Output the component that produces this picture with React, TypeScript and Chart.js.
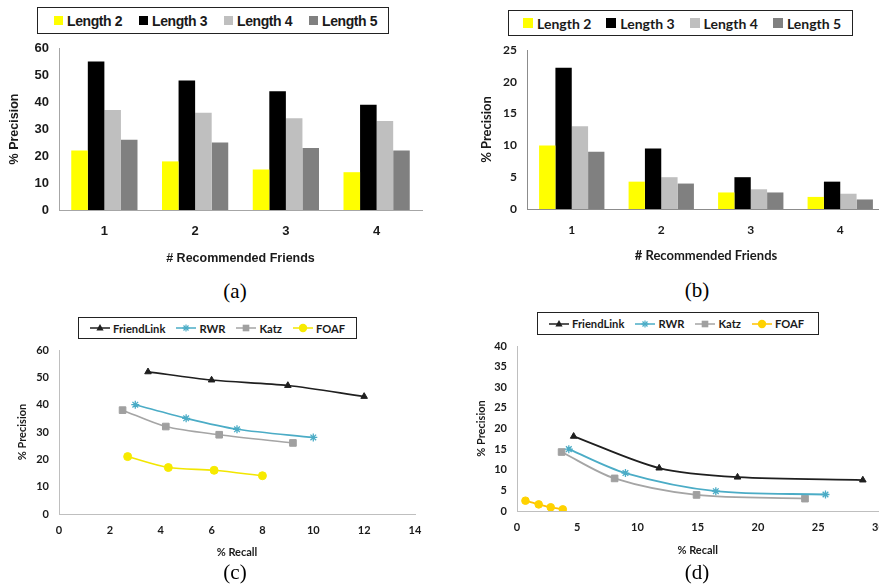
import React, { useEffect, useRef } from "react";
import { Chart, registerables } from "chart.js";

Chart.register(...registerables);

// ---------- Data ----------
const barCategories = ["1", "2", "3", "4"];
const barSeriesNames = ["Length 2", "Length 3", "Length 4", "Length 5"];
const barColors = ["#FFFF00", "#000000", "#BFBFBF", "#808080"];

// Panel (a)
const precisionA_len2 = [22, 18, 15, 14];
const precisionA_len3 = [55, 48, 44, 39];
const precisionA_len4 = [37, 36, 34, 33];
const precisionA_len5 = [26, 25, 23, 22];

// Panel (b)
const precisionB_len2 = [10, 4.3, 2.6, 1.9];
const precisionB_len3 = [22.2, 9.5, 5, 4.3];
const precisionB_len4 = [13, 5, 3.1, 2.4];
const precisionB_len5 = [9, 4, 2.6, 1.5];

const lineSeriesNames = ["FriendLink", "RWR", "Katz", "FOAF"];

// Panel (c)
const recallC_friendlink = [3.5, 6, 9, 12];
const precisionC_friendlink = [52, 49, 47, 43];
const recallC_rwr = [3, 5, 7, 10];
const precisionC_rwr = [40, 35, 31, 28];
const recallC_katz = [2.5, 4.2, 6.3, 9.2];
const precisionC_katz = [38, 32, 29, 26];
const recallC_foaf = [2.7, 4.3, 6.1, 8];
const precisionC_foaf = [21, 17, 16, 14];

// Panel (d)
const recallD_friendlink = [4.7, 11.8, 18.3, 28.7];
const precisionD_friendlink = [18.1, 10.4, 8.2, 7.5];
const recallD_rwr = [4.3, 9, 16.5, 25.6];
const precisionD_rwr = [15, 9.2, 4.8, 4.0];
const recallD_katz = [3.7, 8.1, 14.9, 23.9];
const precisionD_katz = [14.3, 7.9, 3.9, 3.0];
const recallD_foaf = [0.7, 1.8, 2.8, 3.8];
const precisionD_foaf = [2.5, 1.6, 0.9, 0.4];

// ---------- Styles ----------
const FONT_A = '"Liberation Sans", Arial, sans-serif';
const FONT_B = 'Lato, "Open Sans", sans-serif';
const TEXT = "#1a1a1a";

const lineStyles = [
  { color: "#1f1f1f", point: "triangle", radius: 3.8, fill: "#1f1f1f" },
  { color: "#4BACC6", point: "star", radius: 4, fill: "#4BACC6" },
  { color: "#A5A5A5", point: "rect", radius: 4.7, fill: "#A0A0A0" },
  { color: "#F2E600", point: "circle", radius: 4, fill: "#F7EA00" },
];
const lineStylesD = [
  lineStyles[0],
  lineStyles[1],
  lineStyles[2],
  { color: "#FFC000", point: "circle", radius: 3.8, fill: "#FFD200" },
];

function zip(xs: number[], ys: number[]) {
  return xs.map((x, i) => ({ x, y: ys[i] }));
}

function noPad(s: any) {
  s.paddingTop = 0;
  s.paddingBottom = 0;
  s.paddingLeft = 0;
  s.paddingRight = 0;
}

function barConfig(opts: any) {
  const { series, max, step, font, tickSize, titleSize, padding, yWidth, xHeight, yTitlePad, xTickPad, xTitlePad, borderColor } = opts;
  return {
    type: "bar",
    data: {
      labels: barCategories,
      datasets: barSeriesNames.map((name, i) => ({
        label: name,
        data: series[i],
        backgroundColor: barColors[i],
        borderWidth: 0,
        categoryPercentage: 0.73,
        barPercentage: 1,
      })),
    },
    options: {
      animation: false,
      responsive: false,
      maintainAspectRatio: false,
      layout: { padding },
      plugins: { legend: { display: false }, tooltip: { enabled: false } },
      scales: {
        x: {
          grid: { display: false, drawTicks: false },
          border: { display: true, color: borderColor, width: 1 },
          ticks: { font: { family: font, size: tickSize, weight: "bold" }, color: TEXT, padding: xTickPad },
          title: {
            display: true,
            text: "# Recommended Friends",
            font: { family: font, size: titleSize, weight: "bold" },
            color: TEXT,
            padding: { top: 0, bottom: xTitlePad },
          },
          afterFit: (s: any) => { s.height = xHeight; noPad(s); },
        },
        y: {
          min: 0,
          max,
          grid: { display: false, drawTicks: false },
          border: { display: true, color: borderColor, width: 1 },
          ticks: { stepSize: step, font: { family: font, size: tickSize, weight: "bold" }, color: TEXT, padding: 10 },
          title: {
            display: true,
            text: "% Precision",
            font: { family: font, size: titleSize, weight: "bold" },
            color: TEXT,
            padding: { top: yTitlePad, bottom: 0 },
          },
          afterFit: (s: any) => { s.width = yWidth; noPad(s); },
        },
      },
    },
  };
}

function lineConfig(opts: any) {
  const { series, styles, xMax, xStep, yMax, yStep, padding, yWidth, xHeight, yTitlePad, xTickPad, xTitlePad, lineWidth } = opts;
  const tickFont = { family: FONT_B, size: 11, weight: "bold" };
  const titleFont = { family: FONT_B, size: 11, weight: "bold" };
  return {
    type: "scatter",
    data: {
      datasets: lineSeriesNames.map((name, i) => ({
        label: name,
        data: zip(series[i][0], series[i][1]),
        showLine: true,
        tension: 0.3,
        borderColor: styles[i].color,
        borderWidth: lineWidth,
        pointStyle: styles[i].point,
        pointRadius: styles[i].radius,
        pointBackgroundColor: styles[i].fill,
        pointBorderColor: styles[i].point === "star" ? styles[i].color : styles[i].fill,
        pointBorderWidth: styles[i].point === "star" ? 1.3 : 1,
      })),
    },
    options: {
      animation: false,
      responsive: false,
      maintainAspectRatio: false,
      layout: { padding },
      plugins: { legend: { display: false }, tooltip: { enabled: false } },
      scales: {
        x: {
          type: "linear",
          min: 0,
          max: xMax,
          grid: { display: false, drawTicks: false },
          border: { display: true, color: "#BFBFBF", width: 1 },
          ticks: { stepSize: xStep, font: tickFont, color: TEXT, padding: xTickPad },
          title: { display: true, text: "% Recall", font: titleFont, color: TEXT, padding: { top: 0, bottom: xTitlePad } },
          afterFit: (s: any) => { s.height = xHeight; noPad(s); },
        },
        y: {
          type: "linear",
          min: 0,
          max: yMax,
          grid: { display: false, drawTicks: false },
          border: { display: true, color: "#BFBFBF", width: 1 },
          ticks: { stepSize: yStep, font: tickFont, color: TEXT, padding: 10 },
          title: { display: true, text: "% Precision", font: titleFont, color: TEXT, padding: { top: yTitlePad, bottom: 0 } },
          afterFit: (s: any) => { s.width = yWidth; noPad(s); },
        },
      },
    },
  };
}

function ChartCanvas({ left, top, width, height, config }: any) {
  const ref = useRef<HTMLCanvasElement>(null);
  useEffect(() => {
    const chart = new Chart(ref.current as HTMLCanvasElement, config as any);
    return () => chart.destroy();
  }, []);
  return (
    <canvas
      ref={ref}
      width={width}
      height={height}
      style={{ position: "absolute", left, top, width, height, display: "block" }}
    />
  );
}

function BarLegend({ left, top, width, height, font, fontSize, padLeft, itemWidth, marker, spacing }: any) {
  return (
    <div
      style={{
        position: "absolute", left, top, width, height, boxSizing: "border-box",
        border: "1px solid #222", display: "flex", alignItems: "center", paddingLeft: padLeft,
        fontFamily: font, fontSize, fontWeight: "bold", color: TEXT, background: "#fff",
      }}
    >
      {barSeriesNames.map((n, i) => (
        <div key={n} style={{ width: itemWidth, flex: "none", display: "flex", alignItems: "center" }}>
          <span style={{ width: marker, height: marker, background: barColors[i], display: "inline-block", marginRight: 4 }} />
          <span style={{ whiteSpace: "nowrap", letterSpacing: spacing }}>{n}</span>
        </div>
      ))}
    </div>
  );
}

function Marker({ st }: any) {
  const c = 10, m = 5;
  let shape: any = null;
  if (st.point === "triangle") shape = <polygon points={`${c},${m - 4} ${c + 3.6},${m + 2.5} ${c - 3.6},${m + 2.5}`} fill={st.fill} />;
  else if (st.point === "rect") shape = <rect x={c - 3.3} y={m - 3.3} width={6.6} height={6.6} fill={st.fill} />;
  else if (st.point === "circle") shape = <circle cx={c} cy={m} r={4.2} fill={st.fill} />;
  else shape = (
    <g stroke={st.color} strokeWidth={1.2}>
      <line x1={c - 3.5} y1={m} x2={c + 3.5} y2={m} />
      <line x1={c} y1={m - 3.5} x2={c} y2={m + 3.5} />
      <line x1={c - 2.5} y1={m - 2.5} x2={c + 2.5} y2={m + 2.5} />
      <line x1={c - 2.5} y1={m + 2.5} x2={c + 2.5} y2={m - 2.5} />
    </g>
  );
  return (
    <svg width={20} height={10} style={{ display: "block", flex: "none" }}>
      <line x1={0} y1={m} x2={20} y2={m} stroke={st.color} strokeWidth={1.5} />
      {shape}
    </svg>
  );
}

function LineLegend({ left, top, width, height, styles }: any) {
  return (
    <div
      style={{
        position: "absolute", left, top, width, height, boxSizing: "border-box",
        border: "1px solid #222", display: "flex", alignItems: "center", paddingLeft: 11, gap: 11,
        fontFamily: FONT_B, fontSize: 11.2, fontWeight: "bold", color: TEXT, background: "#fff",
      }}
    >
      {lineSeriesNames.map((n, i) => (
        <div key={n} style={{ display: "flex", alignItems: "center", flex: "none" }}>
          <Marker st={styles[i]} />
          <span style={{ marginLeft: 3, whiteSpace: "nowrap" }}>{n}</span>
        </div>
      ))}
    </div>
  );
}

function Caption({ x, y, text }: any) {
  return (
    <div
      style={{
        position: "absolute", left: x, top: y, transform: "translate(-50%, -50%)",
        fontFamily: '"Liberation Serif", "Times New Roman", serif', fontSize: 21, color: "#000", whiteSpace: "nowrap",
      }}
    >
      {text}
    </div>
  );
}

export default function App() {
  const cfgA = () =>
    barConfig({
      series: [precisionA_len2, precisionA_len3, precisionA_len4, precisionA_len5],
      max: 60, step: 10, font: FONT_A, tickSize: 13, titleSize: 12.5,
      padding: { left: 0, top: 8, right: 18, bottom: 0 },
      yWidth: 59, xHeight: 60, yTitlePad: 7, xTickPad: 13.5, xTitlePad: 4, borderColor: "#A6A6A6",
    });
  const cfgB = () =>
    barConfig({
      series: [precisionB_len2, precisionB_len3, precisionB_len4, precisionB_len5],
      max: 25, step: 5, font: FONT_B, tickSize: 12, titleSize: 13,
      padding: { left: 0, top: 10, right: 0, bottom: 0 },
      yWidth: 87, xHeight: 59, yTitlePad: 39, xTickPad: 14, xTitlePad: 4, borderColor: "#8C8C8C",
    });
  const cfgC = () =>
    lineConfig({
      series: [
        [recallC_friendlink, precisionC_friendlink],
        [recallC_rwr, precisionC_rwr],
        [recallC_katz, precisionC_katz],
        [recallC_foaf, precisionC_foaf],
      ],
      styles: lineStyles, xMax: 14, xStep: 2, yMax: 60, yStep: 10,
      padding: { left: 0, top: 10, right: 25, bottom: 0 },
      yWidth: 59, xHeight: 50, yTitlePad: 16, xTickPad: 10, xTitlePad: 5, lineWidth: 1.6,
    });
  const cfgD = () =>
    lineConfig({
      series: [
        [recallD_friendlink, precisionD_friendlink],
        [recallD_rwr, precisionD_rwr],
        [recallD_katz, precisionD_katz],
        [recallD_foaf, precisionD_foaf],
      ],
      styles: lineStylesD, xMax: 30, xStep: 5, yMax: 40, yStep: 5,
      padding: { left: 0, top: 11, right: 6.5, bottom: 0 },
      yWidth: 77, xHeight: 51, yTitlePad: 35, xTickPad: 10, xTitlePad: 5, lineWidth: 1.8,
    });

  return (
    <div style={{ position: "fixed", left: 0, top: 0, width: 879, height: 585, overflow: "hidden", background: "#fff" }}>
      <ChartCanvas left={0} top={40} width={440} height={230} config={cfgA()} />
      <ChartCanvas left={440} top={40} width={445} height={228} config={cfgB()} />
      <ChartCanvas left={0} top={340} width={440} height={224} config={cfgC()} />
      <ChartCanvas left={440} top={335} width={445} height={227} config={cfgD()} />

      <BarLegend left={37} top={7} width={352} height={27} font={FONT_A} fontSize={14} padLeft={16} itemWidth={85} marker={9} spacing={-0.4} />
      <BarLegend left={508} top={10} width={345} height={26} font={FONT_B} fontSize={14} padLeft={14} itemWidth={83.3} marker={10} spacing={0} />
      <LineLegend left={78} top={317} width={279} height={22} styles={lineStyles} />
      <LineLegend left={537} top={312} width={282} height={23} styles={lineStylesD} />

      <Caption x={235} y={291} text="(a)" />
      <Caption x={697} y={290} text="(b)" />
      <Caption x={235} y={572} text="(c)" />
      <Caption x={697} y={572} text="(d)" />
    </div>
  );
}
